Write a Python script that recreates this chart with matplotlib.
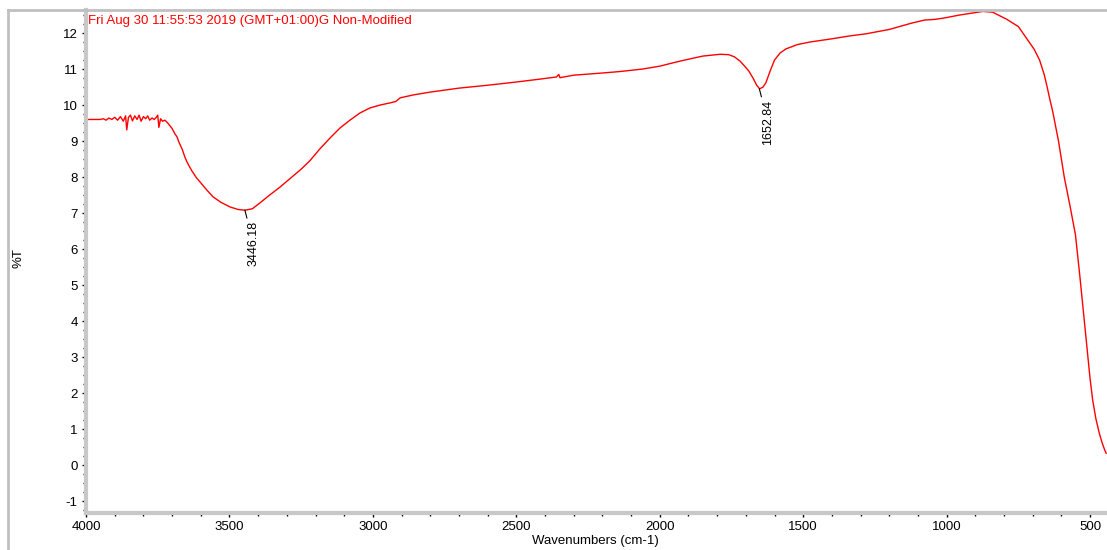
import matplotlib.pyplot as plt
from matplotlib.lines import Line2D

plt.rcParams['font.family'] = ['Liberation Sans', 'DejaVu Sans']
plt.rcParams['axes.unicode_minus'] = False

# FTIR spectrum (wavenumber cm-1, %T)
wavenumber = [4000, 3975, 3950, 3940, 3930, 3920, 3910, 3900, 3890, 3880, 3870, 3862, 3858,
              3852, 3845, 3838, 3830, 3822, 3815, 3808, 3800, 3792, 3785, 3778, 3770, 3762,
              3755, 3750, 3746, 3740, 3733, 3725, 3715, 3707, 3700, 3690, 3683, 3675, 3665,
              3655, 3648, 3640, 3630, 3615, 3602, 3580, 3557, 3530, 3498, 3470, 3446, 3420,
              3394, 3360, 3324, 3290, 3250, 3220, 3185, 3150, 3115, 3080, 3045, 3010, 2975,
              2940, 2920, 2905, 2860, 2800, 2700, 2600, 2500, 2418, 2360, 2352, 2348, 2300,
              2200, 2140, 2060, 2000, 1940, 1896, 1850, 1790, 1760, 1740, 1720, 1704, 1690,
              1675, 1662, 1652, 1640, 1630, 1615, 1600, 1580, 1560, 1547, 1520, 1477, 1400,
              1338, 1280, 1233, 1200, 1164, 1120, 1077, 1040, 1007, 955, 900, 874, 840, 790,
              750, 721, 695, 676, 660, 651, 640, 631, 610, 590, 570, 551, 535, 516, 500, 491,
              480, 468, 458, 449, 444]
transmittance = [9.60, 9.60, 9.60, 9.62, 9.58, 9.64, 9.60, 9.66, 9.58, 9.68, 9.55, 9.70, 9.31,
                 9.66, 9.72, 9.56, 9.70, 9.60, 9.72, 9.55, 9.68, 9.62, 9.70, 9.58, 9.64, 9.60,
                 9.66, 9.72, 9.38, 9.62, 9.55, 9.58, 9.50, 9.42, 9.35, 9.20, 9.12, 8.95, 8.78,
                 8.55, 8.42, 8.30, 8.16, 7.98, 7.86, 7.65, 7.45, 7.30, 7.17, 7.10, 7.08, 7.12,
                 7.28, 7.50, 7.72, 7.95, 8.22, 8.45, 8.78, 9.08, 9.36, 9.58, 9.78, 9.92, 10.00,
                 10.06, 10.10, 10.20, 10.28, 10.36, 10.47, 10.55, 10.64, 10.72, 10.78, 10.85,
                 10.76, 10.83, 10.89, 10.93, 11.00, 11.08, 11.20, 11.28, 11.36, 11.41, 11.40,
                 11.34, 11.22, 11.08, 10.95, 10.75, 10.55, 10.45, 10.50, 10.62, 10.95, 11.25,
                 11.45, 11.56, 11.60, 11.68, 11.75, 11.84, 11.92, 11.98, 12.05, 12.10, 12.18,
                 12.28, 12.36, 12.38, 12.42, 12.50, 12.57, 12.60, 12.58, 12.38, 12.18, 11.85,
                 11.55, 11.25, 10.85, 10.55, 10.15, 9.85, 9.00, 8.00, 7.20, 6.40, 5.20, 3.67,
                 2.40, 1.81, 1.30, 0.89, 0.62, 0.42, 0.33]

peak_wn = [3446.18, 1652.84]
peak_t = [7.08, 10.45]
peak_labels = ['3446.18', '1652.84']

title = 'Fri Aug 30 11:55:53 2019 (GMT+01:00)G Non-Modified'

fig = plt.figure(figsize=(11.07, 5.5), dpi=100)
ax = fig.add_axes([86 / 1107, 37 / 550, 1 - 86 / 1107, 503 / 550])

ax.plot(wavenumber, transmittance, color='#ff0000', linewidth=1.0)

ax.set_xlim(4000, 441)
ax.set_ylim(-1.33, 12.64)
ax.set_xticks([4000, 3500, 3000, 2500, 2000, 1500, 1000, 500])
ax.set_xticks(range(4000, 440, -100), minor=True)
ax.set_yticks(range(-1, 13))
ax.set_yticks([v / 4 for v in range(-5, 51)], minor=True)
ax.tick_params(which='major', length=3, width=1, labelsize=9.5, color='black', pad=3)
ax.tick_params(which='minor', length=2, width=1, color='black')

for side in ['top', 'right']:
    ax.spines[side].set_visible(False)
for side in ['left', 'bottom']:
    ax.spines[side].set_color('#c8c8c8')
    ax.spines[side].set_linewidth(3)

ax.set_xlabel('Wavenumbers (cm-1)', fontsize=9.5)
ax.set_ylabel('%T', fontsize=9.5)
ax.xaxis.set_label_coords((595 - 86) / 1021, -(535 - 513) / 503)
ax.yaxis.set_label_coords(-(86 - 25) / 1021, (513 - 258) / 503)

ax.text(0.002, 0.978, title, transform=ax.transAxes, color='#ff0000',
        fontsize=9.5, va='center', ha='left')

for wn, t, lab in zip(peak_wn, peak_t, peak_labels):
    ax.annotate(lab, xy=(wn, t), xytext=(wn - 30, t - 0.3), rotation=90,
                ha='center', va='top', fontsize=9,
                arrowprops=dict(arrowstyle='-', color='black', linewidth=0.8,
                                shrinkA=0, shrinkB=0))

# outer frame lines
fig.add_artist(Line2D([8 / 1107, 8 / 1107], [0, 1 - 10 / 550], color='#c0c0c0', linewidth=2))
fig.add_artist(Line2D([8 / 1107, 1], [1 - 10 / 550, 1 - 10 / 550], color='#c0c0c0', linewidth=2))

fig.savefig('out.png', dpi=100)
